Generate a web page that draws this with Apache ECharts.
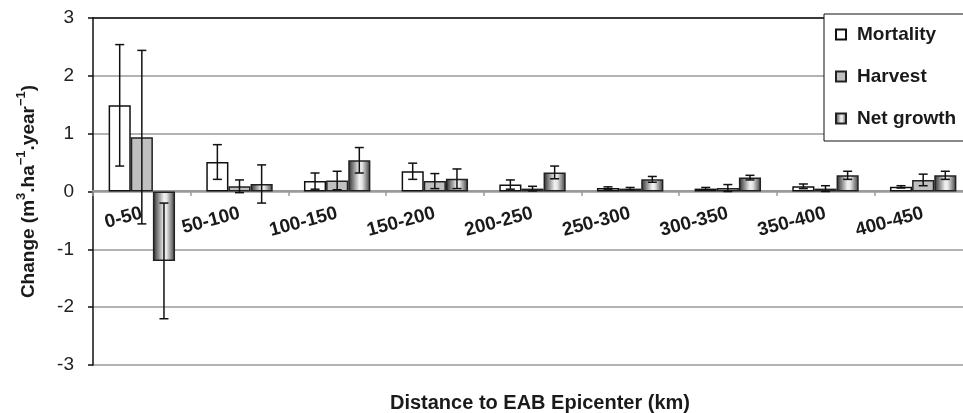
<!DOCTYPE html>
<html>
<head>
<meta charset="utf-8">
<script src="https://cdn.jsdelivr.net/npm/echarts@6/dist/echarts.min.js"></script>
<style>
html,body{margin:0;padding:0;background:#fff;}
#chart{width:963px;height:413px;}
</style>
</head>
<body>
<div id="chart"></div>
<script>
const categories = ['0-50','50-100','100-150','150-200','200-250','250-300','300-350','350-400','400-450'];
const mortality    = [1.49, 0.51, 0.18, 0.35, 0.12, 0.06, 0.05, 0.09, 0.08];
const mortalityErr = [1.05, 0.30, 0.14, 0.14, 0.08, 0.02, 0.02, 0.04, 0.02];
const harvest      = [0.94, 0.09, 0.19, 0.18, 0.05, 0.05, 0.06, 0.05, 0.20];
const harvestErr   = [1.50, 0.11, 0.16, 0.13, 0.04, 0.02, 0.06, 0.05, 0.10];
const netGrowth    = [-1.20, 0.13, 0.54, 0.22, 0.33, 0.21, 0.24, 0.28, 0.28];
const netGrowthErr = [1.00, 0.33, 0.22, 0.17, 0.11, 0.05, 0.04, 0.07, 0.07];
const yTicks = [-3, -2, -1, 0, 1, 2, 3];
const seriesNames = ['Mortality', 'Harvest', 'Net growth'];

const FONT = '"Liberation Sans", Arial, Helvetica, sans-serif';
const GAP = 0.32;

const netGradient = new echarts.graphic.LinearGradient(0, 0, 1, 0, [
  {offset: 0, color: '#2a2a2a'},
  {offset: 0.5, color: '#f2f2f2'},
  {offset: 0.62, color: '#e6e6e6'},
  {offset: 1, color: '#3a3a3a'}
]);
const styles = [
  {color: '#ffffff', borderColor: '#111', borderWidth: 1.5},
  {color: '#c0c0c0', borderColor: '#222', borderWidth: 1.5},
  {color: netGradient, borderColor: '#222', borderWidth: 1.5}
];
const values = [mortality, harvest, netGrowth];
const errs = [mortalityErr, harvestErr, netGrowthErr];

function errSeries(k) {
  const offset = k - 1;
  return {
    type: 'custom',
    name: seriesNames[k] + ' error',
    z: 5,
    silent: true,
    data: values[k].map((v, i) => [i, v - errs[k][i], v + errs[k][i]]),
    renderItem: function (params, api) {
      const i = api.value(0);
      const lo = api.coord([i, api.value(1)]);
      const hi = api.coord([i, api.value(2)]);
      const band = api.size([1, 0])[0];
      const bw = band * (1 - GAP) / 3;
      const cx = hi[0] + offset * bw;
      const h = 4.5;
      const st = {stroke: '#111', lineWidth: 1.5};
      return {
        type: 'group',
        children: [
          {type: 'line', shape: {x1: cx, y1: hi[1], x2: cx, y2: lo[1]}, style: st},
          {type: 'line', shape: {x1: cx - h, y1: hi[1], x2: cx + h, y2: hi[1]}, style: st},
          {type: 'line', shape: {x1: cx - h, y1: lo[1], x2: cx + h, y2: lo[1]}, style: st}
        ]
      };
    }
  };
}

const barSeries = seriesNames.map((n, k) => ({
  type: 'bar',
  name: n,
  data: values[k],
  xAxisIndex: 0,
  barGap: '0%',
  barCategoryGap: (GAP * 100) + '%',
  itemStyle: styles[k],
  z: 2
}));

const chart = echarts.init(document.getElementById('chart'), null, {renderer: 'canvas'});
chart.setOption({
  animation: false,
  backgroundColor: '#ffffff',
  textStyle: {fontFamily: FONT},
  grid: {left: 93, top: 18, width: 879, height: 347, containLabel: false, outerBoundsMode: 'none'},
  legend: {
    data: seriesNames,
    orient: 'vertical',
    left: 824,
    top: 14,
    padding: [11, 12, 13, 11],
    itemGap: 23,
    itemWidth: 10,
    itemHeight: 10,
    icon: 'rect',
    backgroundColor: '#ffffff',
    borderColor: '#111',
    borderWidth: 1,
    borderRadius: 0,
    textStyle: {fontFamily: FONT, fontSize: 19, fontWeight: 'bold', color: '#1a1a1a', padding: [0, 0, 0, 6]}
  },
  xAxis: [{
    type: 'category',
    data: categories,
    position: 'bottom',
    offset: -174,
    axisLine: {onZero: false, lineStyle: {color: '#9a9a9a', width: 2}},
    axisTick: {show: true, length: 5, lineStyle: {color: '#9a9a9a', width: 1.5}},
    axisLabel: {rotate: 15, margin: 22, fontFamily: FONT, fontSize: 19, fontWeight: 'bold', color: '#1a1a1a'},
    splitLine: {show: false}
  }, {
    type: 'category',
    data: categories,
    position: 'top',
    axisLine: {show: true, onZero: false, lineStyle: {color: '#111', width: 1.5}},
    axisTick: {show: false},
    axisLabel: {show: false},
    splitLine: {show: false}
  }],
  yAxis: {
    type: 'value',
    min: yTicks[0],
    max: yTicks[yTicks.length - 1],
    interval: 1,
    name: '{b|Change (m}{s|3}{b|.ha}{s|\u22121}{b|.year}{s|\u22121}{b|)}',
    nameLocation: 'middle',
    nameGap: 55,
    nameTextStyle: {
      fontFamily: FONT, fontSize: 19, fontWeight: 'bold', color: '#1a1a1a',
      rich: {
        b: {fontFamily: FONT, fontSize: 19, fontWeight: 'bold', color: '#1a1a1a', lineHeight: 23, verticalAlign: 'bottom'},
        s: {fontFamily: FONT, fontSize: 13, fontWeight: 'bold', color: '#1a1a1a', lineHeight: 23, verticalAlign: 'top'}
      }
    },
    axisLine: {show: true, lineStyle: {color: '#111', width: 1.5}},
    axisTick: {show: true, length: 5, lineStyle: {color: '#111', width: 1.5}},
    axisLabel: {margin: 19, fontFamily: FONT, fontSize: 19, color: '#222'},
    splitLine: {show: true, lineStyle: {color: '#9a9a9a', width: 1.5}}
  },
  graphic: [{
    type: 'text',
    x: 540,
    y: 403,
    style: {
      text: 'Distance to EAB Epicenter (km)',
      fontFamily: FONT, fontSize: 20, fontWeight: 'bold', fill: '#1a1a1a',
      align: 'center', verticalAlign: 'middle'
    }
  }],
  series: barSeries.concat([errSeries(0), errSeries(1), errSeries(2)])
});
</script>
</body>
</html>
